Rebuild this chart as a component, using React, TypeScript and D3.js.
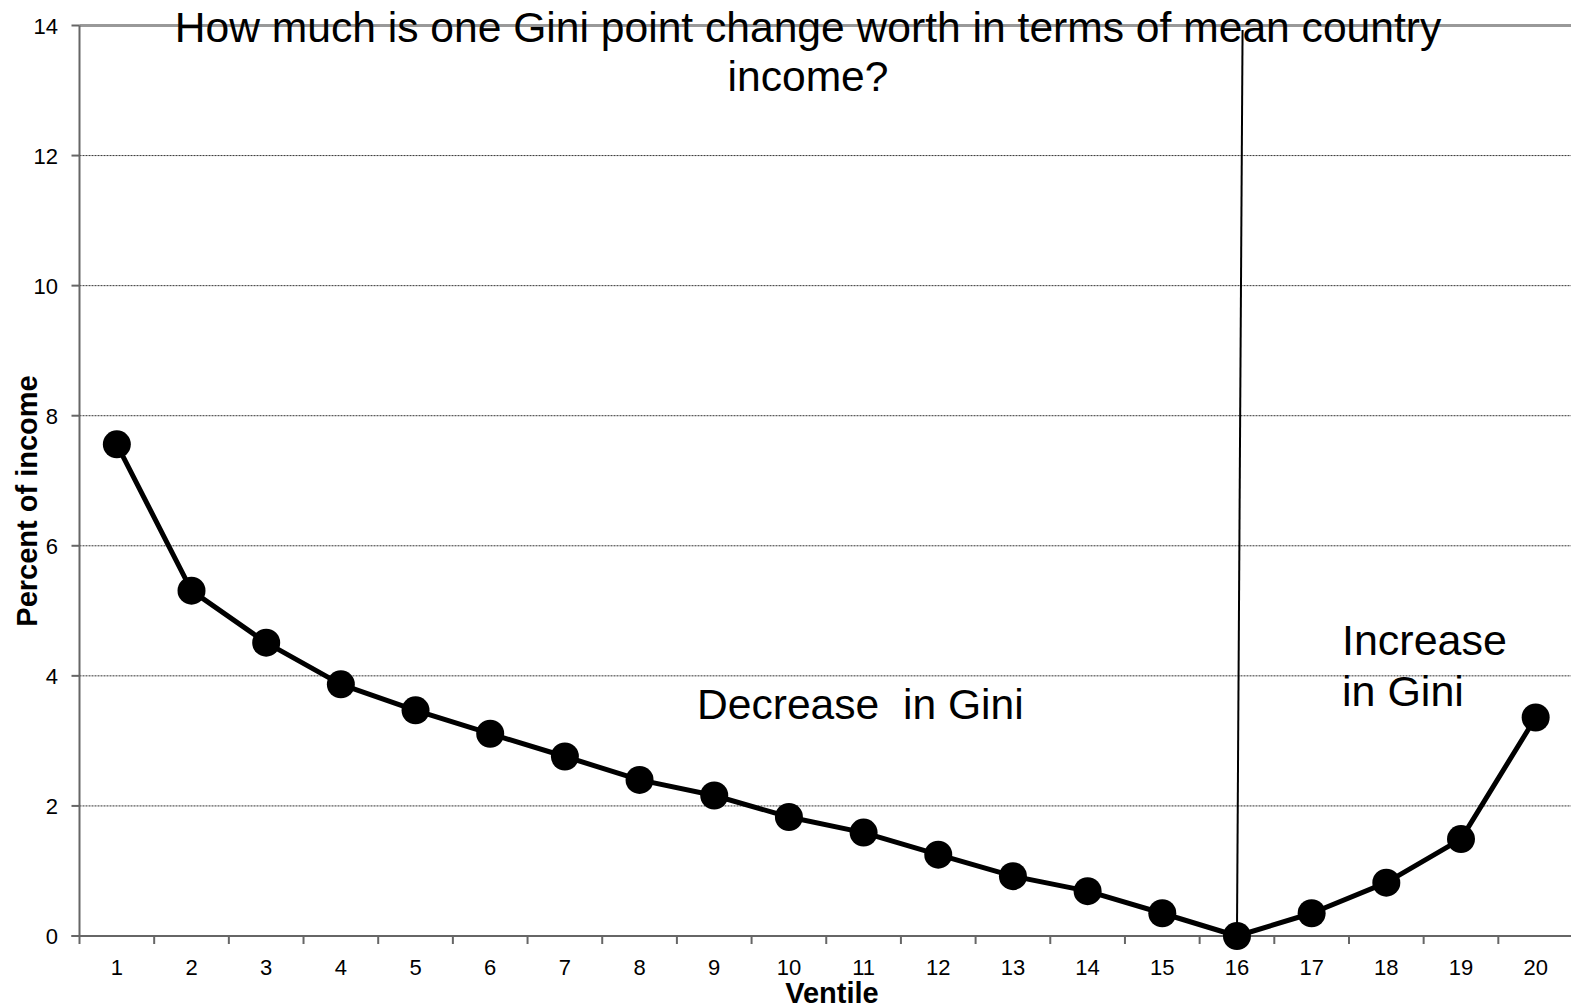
import React, { useEffect } from "react";
import * as d3 from "d3";

const ventiles = [1, 2, 3, 4, 5, 6, 7, 8, 9, 10, 11, 12, 13, 14, 15, 16, 17, 18, 19, 20];
const percentOfIncome = [7.56, 5.31, 4.51, 3.87, 3.47, 3.11, 2.76, 2.40, 2.16, 1.83, 1.59, 1.25, 0.92, 0.69, 0.35, 0.0, 0.35, 0.82, 1.49, 3.36];
const yTicks = [0, 2, 4, 6, 8, 10, 12, 14];
const titleLines = ["How much is one Gini point change worth in terms of mean country", "income?"];
const dividerLine = [
  { v: 16, y: 0 },
  { v: 16.075, y: 13.93 },
];

const W = 1571;
const H = 1008;
const M = { left: 79.5, right: 1573, top: 25.5, bottom: 936 };
const FONT = "'Liberation Sans', Arial, Helvetica, sans-serif";

export default function App() {
  useEffect(() => {
    document.body.style.margin = "0";
    document.body.style.overflow = "hidden";
  }, []);

  const band = d3
    .scaleBand<number>()
    .domain(ventiles)
    .range([M.left, M.right])
    .padding(0);
  const xc = (v: number) => (band(v) as number) + band.bandwidth() / 2;
  const xLin = d3
    .scaleLinear()
    .domain([1, 20])
    .range([xc(1), xc(20)]);
  const y = d3.scaleLinear().domain([0, 14]).range([M.bottom, M.top]);

  const pts = ventiles.map((v, i) => ({ v, p: percentOfIncome[i] }));
  const line = d3
    .line<{ v: number; p: number }>()
    .x((d) => xc(d.v))
    .y((d) => y(d.p));
  const divider = d3
    .line<{ v: number; y: number }>()
    .x((d) => xLin(d.v))
    .y((d) => y(d.y));

  const boundaries = ventiles.map((v) => band(v) as number).concat([M.right]);

  return (
    <svg width={W} height={H} style={{ position: "absolute", left: 0, top: 0, background: "#fff" }}>
      {/* gridlines */}
      {yTicks
        .filter((t) => t > 0 && t < 14)
        .map((t) => (
          <line
            key={"g" + t}
            x1={M.left}
            x2={W}
            y1={y(t)}
            y2={y(t)}
            stroke="#333"
            strokeWidth={1}
            strokeDasharray="2,1"
          />
        ))}
      {/* top border at 14 */}
      <line x1={M.left} x2={W} y1={y(14)} y2={y(14)} stroke="#999" strokeWidth={3} />
      {/* y axis */}
      <line x1={M.left} x2={M.left} y1={y(14)} y2={M.bottom + 1} stroke="#666" strokeWidth={2} />
      {yTicks.map((t) => (
        <g key={"yt" + t}>
          <line x1={M.left - 8} x2={M.left} y1={y(t)} y2={y(t)} stroke="#666" strokeWidth={2} />
          <text
            x={58}
            y={y(t)}
            dy="0.37em"
            textAnchor="end"
            fontFamily={FONT}
            fontSize={22}
            fill="#000"
          >
            {t}
          </text>
        </g>
      ))}
      {/* x axis */}
      <line x1={M.left - 8} x2={W} y1={M.bottom} y2={M.bottom} stroke="#666" strokeWidth={2} />
      {boundaries.map((b, i) => (
        <line key={"xt" + i} x1={b} x2={b} y1={M.bottom} y2={M.bottom + 8} stroke="#666" strokeWidth={2} />
      ))}
      {ventiles.map((v) => (
        <text
          key={"xl" + v}
          x={xc(v)}
          y={975}
          textAnchor="middle"
          fontFamily={FONT}
          fontSize={22}
          fill="#000"
        >
          {v}
        </text>
      ))}
      {/* axis titles */}
      <text
        x={832}
        y={1003}
        textAnchor="middle"
        fontFamily={FONT}
        fontSize={29}
        fontWeight="bold"
        fill="#000"
      >
        Ventile
      </text>
      <text
        transform={`translate(37, 501) rotate(-90)`}
        textAnchor="middle"
        fontFamily={FONT}
        fontSize={29}
        fontWeight="bold"
        fill="#000"
      >
        Percent of income
      </text>
      {/* title */}
      {titleLines.map((t, i) => (
        <text
          key={"title" + i}
          x={808}
          y={42 + i * 49}
          textAnchor="middle"
          fontFamily={FONT}
          fontSize={42.6}
          fill="#000"
        >
          {t}
        </text>
      ))}
      {/* divider line */}
      <path d={divider(dividerLine) || ""} fill="none" stroke="#000" strokeWidth={2} />
      {/* series */}
      <path d={line(pts) || ""} fill="none" stroke="#000" strokeWidth={5} strokeLinejoin="round" />
      {pts.map((d) => (
        <circle key={"pt" + d.v} cx={xc(d.v)} cy={y(d.p)} r={14} fill="#000" />
      ))}
      {/* annotations */}
      <text x={697} y={719} fontFamily={FONT} fontSize={42.6} fill="#000" style={{ whiteSpace: "pre" }}>
        {"Decrease  in Gini"}
      </text>
      <text x={1342} y={655} fontFamily={FONT} fontSize={43} fill="#000">
        Increase
      </text>
      <text x={1342} y={706} fontFamily={FONT} fontSize={43} fill="#000">
        in Gini
      </text>
    </svg>
  );
}
